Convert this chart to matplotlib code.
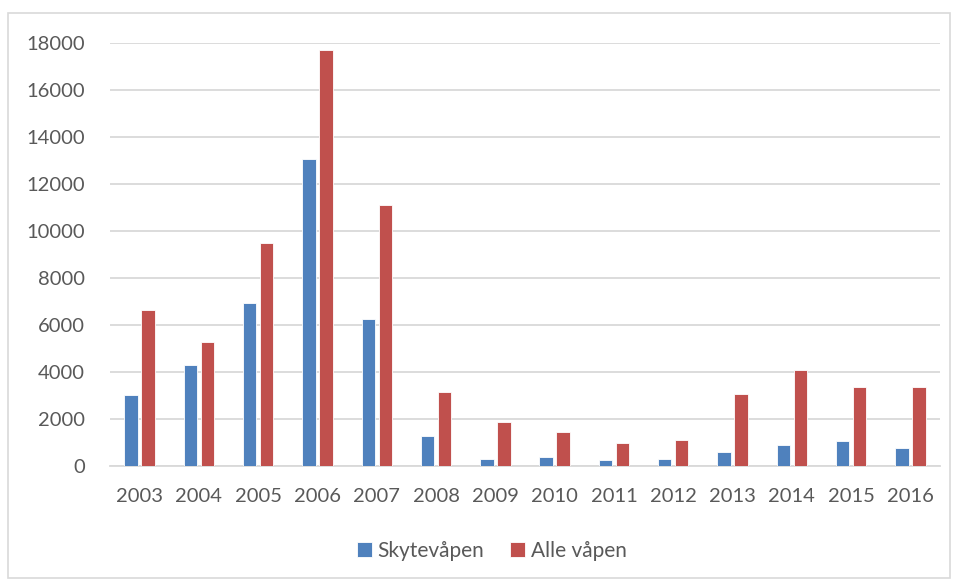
import numpy as np
import matplotlib.pyplot as plt
from matplotlib.patches import Rectangle

years = ["2003", "2004", "2005", "2006", "2007", "2008", "2009",
         "2010", "2011", "2012", "2013", "2014", "2015", "2016"]
skytevapen = [3020, 4285, 6905, 13035, 6245, 1277, 298,
              383, 255, 284, 585, 865, 1064, 752]
alle_vapen = [6638, 5264, 9480, 17672, 11094, 3125, 1880,
              1447, 979, 1106, 3064, 4071, 3333, 3348]

blue = "#4F81BD"
red = "#C0504D"
grid = "#D9D9D9"
txt = "#595959"

plt.rcParams["font.family"] = ["Lato", "DejaVu Sans"]

fig = plt.figure(figsize=(9.55, 5.81), dpi=100)
ax = fig.add_axes([110 / 955, 1 - 465.8 / 581, 830 / 955, (465.8 - 42.5) / 581])

x = np.arange(len(years))
w = 0.225
off = 0.143
ax.bar(x - off, skytevapen, width=w, color=blue, edgecolor="white", linewidth=0.6,
       label="Skytevåpen", zorder=3)
ax.bar(x + off, alle_vapen, width=w, color=red, edgecolor="white", linewidth=0.6,
       label="Alle våpen", zorder=3)

ax.set_xlim(-0.5, len(years) - 0.5)
ax.set_ylim(0, 18000)
ax.set_yticks(range(0, 18001, 2000))
ax.set_xticks(x)
ax.set_xticklabels(years)
ax.yaxis.grid(True, color=grid, linewidth=1.3, zorder=0)
ax.set_axisbelow(True)
for s in ["top", "right", "left"]:
    ax.spines[s].set_visible(False)
ax.spines["bottom"].set_color(grid)
ax.spines["bottom"].set_linewidth(1.3)
ax.tick_params(axis="both", length=0, labelsize=14.5, colors=txt)
ax.tick_params(axis="y", pad=18)
ax.tick_params(axis="x", pad=16)

leg = fig.legend(loc="center", bbox_to_anchor=(492 / 955, 1 - 551 / 581), ncol=2,
                 frameon=False, fontsize=15, handlelength=0.72, handleheight=0.72,
                 handletextpad=0.25, columnspacing=1.25)
for t in leg.get_texts():
    t.set_color(txt)

fig.patches.append(Rectangle((8 / 955, 1 - 578 / 581), 942 / 955, 565 / 581,
                             transform=fig.transFigure, fill=False,
                             edgecolor=grid, linewidth=1.2))

fig.savefig("out.png", dpi=100, facecolor="white")
